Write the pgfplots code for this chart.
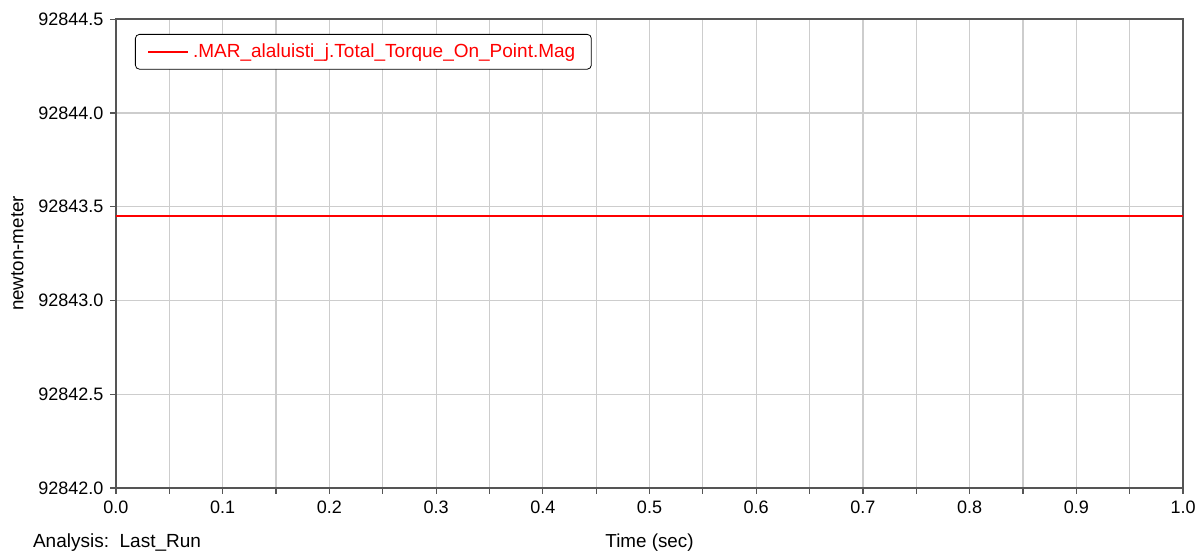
\documentclass[border=0pt]{standalone}
\usepackage{pgfplots}
\pgfplotsset{compat=1.18}
\usepackage{fontspec}
\setmainfont{Liberation Sans}
\definecolor{gridgray}{RGB}{205,205,205}
\definecolor{axgray}{RGB}{85,85,85}
\begin{document}
\begin{tikzpicture}
\useasboundingbox (-58pt,-31.5pt) rectangle (540.5pt,244pt);
\begin{axis}[
  scale only axis,
  width=533.5pt, height=234.5pt,
  xmin=0, xmax=1, ymin=92842, ymax=92844.5,
  xtick={0,0.1,...,1.0},
  ytick={92842,92842.5,...,92844.5},
  minor x tick num=1, minor y tick num=1,
  grid=both,
  major grid style={gridgray, line width=0.6pt},
  minor grid style={gridgray, line width=0.6pt},
  axis line style={axgray, line width=0.7pt},
  tick style={axgray, line width=0.6pt},
  major tick length=2.8pt, minor tick length=2.8pt,
  tick align=outside, tick pos=left,
  font=\fontsize{9.4}{11}\selectfont,
  ticklabel style={font=\fontsize{9}{11}\selectfont},
  /pgf/number format/assume math mode=true,
  xticklabel style={/pgf/number format/.cd, fixed, fixed zerofill, precision=1},
  yticklabel style={/pgf/number format/.cd, fixed, fixed zerofill, precision=1, 1000 sep={}},
  scaled y ticks=false,
  ylabel={newton-meter},
  ylabel style={yshift=0.5pt},
  xlabel={Time (sec)},
  xlabel style={yshift=-3.5pt},
  legend style={at={(0,1)}, anchor=north west, xshift=9.5pt, yshift=-7.5pt,
    draw=black, rounded corners=2pt, text=red, font=\fontsize{9.5}{11}\selectfont,
    inner xsep=6pt, inner ysep=2.5pt},
  legend cell align=left,
  legend image code/.code={\draw[#1, line width=0.8pt] (0pt,0pt) -- (20pt,0pt);},
]
\addplot[red, line width=1pt] coordinates {(0,92843.45) (1,92843.45)};
\addlegendentry{.MAR\_alaluisti\_j.Total\_Torque\_On\_Point.Mag}
\end{axis}
\node[anchor=base west, font=\fontsize{9.5}{11}\selectfont] at (-45pt,-29.5pt) {Analysis:\ \ Last\_Run};
\end{tikzpicture}
\end{document}
